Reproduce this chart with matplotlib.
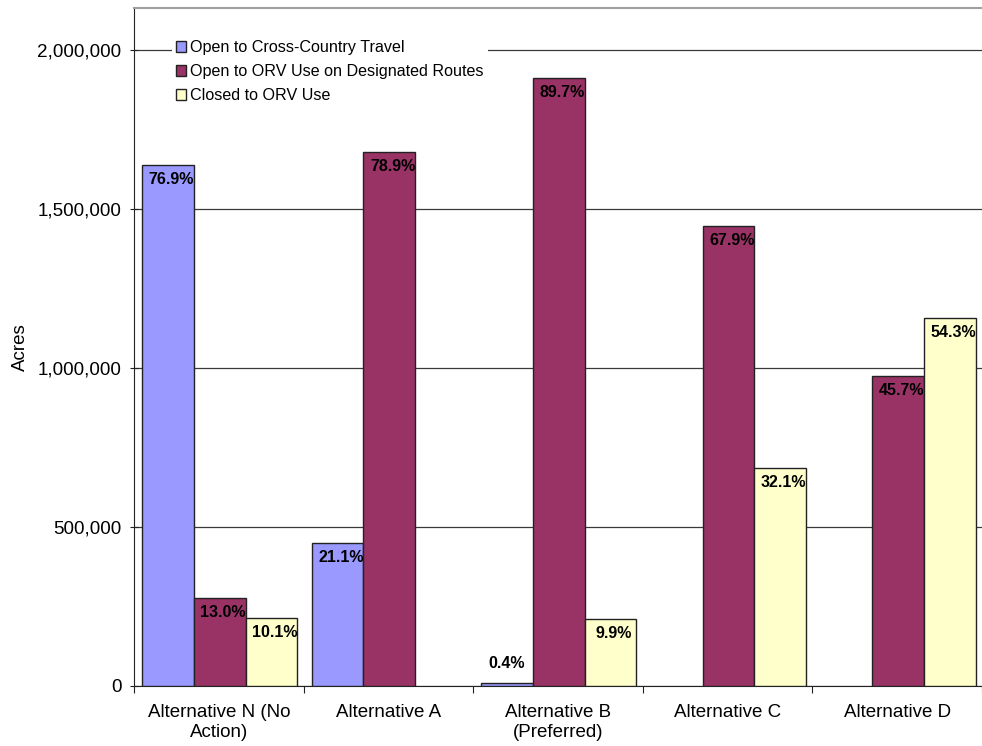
import numpy as np
import matplotlib
matplotlib.use("Agg")
import matplotlib.pyplot as plt
from matplotlib.ticker import FuncFormatter

plt.rcParams['font.family'] = ['Liberation Sans', 'DejaVu Sans']

# acres by alternative and ORV designation
alternatives = ["Alternative N (No\nAction)", "Alternative A", "Alternative B\n(Preferred)",
                "Alternative C", "Alternative D"]
series_names = ["Open to Cross-Country Travel",
                "Open to ORV Use on Designated Routes",
                "Closed to ORV Use"]
cross_country = [1638000, 450000, 8500, 0, 0]
designated = [277000, 1680000, 1911000, 1446000, 974000]
closed = [215000, 0, 211000, 684000, 1157000]

# percent labels shown on the bars (None = no label)
cross_pct = ["76.9%", "21.1%", "0.4%", None, None]
designated_pct = ["13.0%", "78.9%", "89.7%", "67.9%", "45.7%"]
closed_pct = ["10.1%", None, "9.9%", "32.1%", "54.3%"]

colors = ["#9999FF", "#993366", "#FFFFCC"]

fig = plt.figure(figsize=(9.82, 7.46), dpi=100)
ax = fig.add_axes([134 / 982, 60 / 746, 1 - 134 / 982, (686 - 8) / 746])

x = np.arange(len(alternatives))
w = 0.305
series = [cross_country, designated, closed]
labels = [cross_pct, designated_pct, closed_pct]

for k, (vals, labs) in enumerate(zip(series, labels)):
    pos = x + (k - 1) * w + 0.005
    vals = np.array(vals, dtype=float)
    nz = vals > 0
    ax.bar(pos[nz], vals[nz], width=w, color=colors[k], edgecolor="#222222", linewidth=1.0,
           label=series_names[k], zorder=3)
    for xp, v, lab in zip(pos, vals, labs):
        if lab is None:
            continue
        if v < 100000:
            ax.text(xp, v + 40000, lab, ha="center", va="bottom", fontsize=11.5,
                    fontweight="bold", zorder=4)
        else:
            ax.text(xp + 0.02, v - 22000, lab, ha="center", va="top", fontsize=11.5,
                    fontweight="bold", zorder=4)

ax.set_xlim(-0.5, 4.41)
ax.set_ylim(0, 2132000)
ax.set_yticks([0, 500000, 1000000, 1500000, 2000000])
ax.yaxis.set_major_formatter(FuncFormatter(lambda v, p: f"{int(v):,}"))
ax.set_xticks(np.arange(-0.5, 5, 1.0))
ax.set_xticklabels([])
ax.set_xticks(x, minor=True)
ax.set_xticklabels(alternatives, minor=True, fontsize=13.5)
ax.tick_params(axis="x", which="minor", length=0, pad=13)
ax.tick_params(axis="x", which="major", length=5, direction="out", color="#222222")
ax.tick_params(axis="y", labelsize=13.6, length=6, direction="inout", color="#222222", pad=6)

ax.yaxis.grid(True, color="#3a3a3a", linewidth=0.9, zorder=0)
ax.set_axisbelow(True)
ax.spines["right"].set_visible(False)
ax.spines["top"].set_color("#A0A0A0")
ax.spines["top"].set_linewidth(1.5)
ax.spines["left"].set_color("#222222")
ax.spines["bottom"].set_color("#222222")

ax.set_ylabel("Acres", fontsize=13.5, labelpad=6)

leg = ax.legend(loc="upper left", bbox_to_anchor=(0.035, 0.97), frameon=True,
                fancybox=False, edgecolor="none", facecolor="white", framealpha=1,
                fontsize=11.6, handlelength=0.65, handleheight=0.65, handletextpad=0.25,
                labelspacing=0.55, borderpad=0.25)
for h in leg.legend_handles:
    h.set_edgecolor("#222222")

fig.savefig("out.png", dpi=100)
